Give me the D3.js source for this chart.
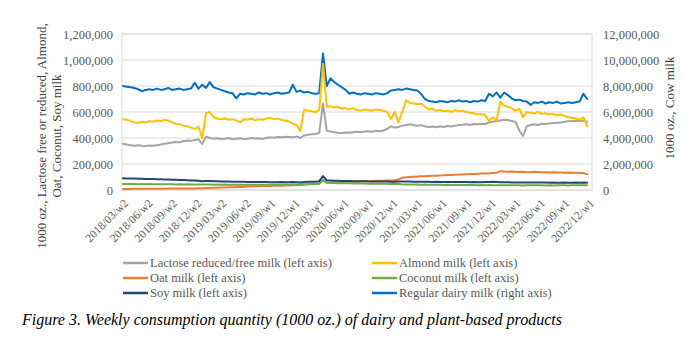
<!DOCTYPE html>
<html>
<head>
<meta charset="utf-8">
<script src="https://cdn.jsdelivr.net/npm/d3@7"></script>
<style>
  html, body { margin: 0; padding: 0; background: #fff; }
  svg { display: block; font-family: "Liberation Serif", "Times New Roman", serif; }
</style>
</head>
<body>
<svg id="chart" width="686" height="340"></svg>
<script>
// Tick labels on the category axis (one every 13 weeks)
const tickLabels = ["2018/03/w2","2018/06/w2","2018/09/w2","2018/12/w2","2019/03/w2","2019/06/w2",
  "2019/09/w1","2019/12/w1","2020/03/w1","2020/06/w1","2020/09/w1","2020/12/w1","2021/03/w1",
  "2021/06/w1","2021/09/w1","2021/12/w1","2022/03/w1","2022/06/w1","2022/09/w1","2022/12/w1"];
const weeksPerTick = 13;
const weekStep = 2;            // values below are read every 2 weeks, starting at week 0
const lastWeek = 247;

// Values in thousands (of 1000 oz.), read every 2nd week
const lactose = [355,350,345,340,345,340,338,342,340,345, 350,355,360,365,370,368,375,380,378,385,
  390,355,410,400,395,398,392,395,400,390, 395,398,392,395,400,396,398,392,400,405,
  402,408,405,410,408,405,412,400,420,425, 428,430,440,665,455,450,445,440,438,442,
  440,445,448,445,450,452,448,455,452,458, 470,490,480,485,495,500,505,500,495,498,
  490,485,488,482,490,485,492,488,495,500, 502,505,500,508,505,510,508,520,525,530,
  535,540,538,530,525,460,415,490,500,505, 500,510,508,512,515,518,520,525,528,530,
  532,530,535,525];
const almond = [545,540,530,520,515,525,520,530,525,535, 530,540,535,520,510,505,495,490,480,470,
  485,400,590,600,560,550,545,550,540,545, 535,520,545,540,550,535,545,540,550,555,
  545,550,540,535,525,510,500,455,620,610, 605,600,615,970,640,645,635,640,625,630,
  620,630,615,610,620,615,610,620,615,610, 600,545,600,520,600,690,670,665,660,665,
  640,620,625,610,615,605,610,600,615,605, 610,600,595,590,580,585,575,530,560,535,
  680,650,640,630,610,625,560,600,595,590, 600,585,590,580,585,575,580,570,560,555,
  550,540,560,490];
const oat = [8,8,8,9,9,9,9,10,10,10, 10,10,11,11,11,11,12,12,12,12,
  13,14,15,16,17,18,19,20,21,22, 23,24,25,26,27,28,29,30,30,31,
  32,33,33,34,35,36,37,38,42,44, 46,47,50,78,58,57,58,60,62,64,
  65,66,67,68,69,70,70,71,72,72, 73,74,75,80,95,98,100,102,103,105,
  106,108,109,110,112,113,115,116,118,119, 120,122,123,124,125,126,127,128,130,132,
  145,142,140,142,140,138,140,137,138,140, 138,136,137,135,136,134,135,133,134,132,
  133,131,130,122];
const coconut = [47,46,47,46,45,46,45,46,45,44, 45,44,45,44,43,44,43,44,43,42,
  43,42,43,42,41,42,41,42,41,40, 41,40,41,40,41,40,41,40,41,40,
  41,40,41,42,41,42,41,42,43,44, 45,46,48,78,55,54,53,52,52,51,
  51,50,51,50,50,49,50,49,49,48, 48,47,48,46,44,43,42,43,42,41,
  42,41,40,41,40,39,40,39,40,38, 39,38,39,38,37,38,37,38,37,36,
  37,36,37,36,37,36,35,36,37,36, 37,36,35,36,35,36,37,36,35,36,
  37,36,37,36];
const soy = [90,89,88,88,87,86,85,85,84,83, 82,81,80,79,78,77,76,75,74,73,
  72,68,70,69,68,67,66,66,65,64, 64,63,63,62,62,62,61,61,61,60,
  60,60,61,60,60,62,60,58,62,63, 63,64,68,107,75,74,72,71,70,70,
  69,68,68,67,67,66,66,66,65,65, 65,64,64,66,65,66,65,64,64,63,
  63,63,62,63,62,62,62,61,62,61, 61,61,60,61,60,60,61,62,63,62,
  60,59,59,58,58,57,57,58,57,57, 58,57,57,56,57,56,56,57,56,56,
  57,56,57,56];
const regularDairy = [8000,7950,7900,7850,7750,7600,7700,7750,7700,7800, 7700,7750,7850,7700,7750,7800,7700,7750,7800,8250,
  7800,8100,7850,8300,7900,7800,7700,7600,7500,7450, 7050,7400,7350,7450,7400,7350,7500,7400,7450,7350,
  7450,7500,7400,7450,7500,8100,7550,7650,7500,7550, 7450,7400,7450,10500,8000,8600,8300,8100,7900,7700,
  7400,7500,7400,7350,7450,7400,7350,7450,7400,7350, 7450,7650,7700,7750,7700,7800,7750,7700,7650,7400,
  7000,6850,6800,6750,6850,6800,6750,6850,6800,6900, 6800,6850,6750,6850,6800,6900,6850,7400,7200,7500,
  7100,7500,7300,7050,6900,6950,6850,6800,6550,6750, 6700,6800,6650,6750,6700,6800,6650,6700,6750,6700,
  6750,6800,7400,7000];

const seriesNames = ["Lactose reduced/free milk (left axis)","Almond milk (left axis)","Oat milk (left axis)",
  "Coconut milk (left axis)","Soy milk (left axis)","Regular dairy milk (right axis)"];
const seriesColors = ["#a5a5a5","#ffc000","#ed7d31","#70ad47","#264478","#0070c0"];
const leftTicks = [0,200,400,600,800,1000,1200];
const rightTicks = [0,2000,4000,6000,8000,10000,12000];

const series = [
  {name: seriesNames[0], color: seriesColors[0], values: lactose, axis: "left"},
  {name: seriesNames[1], color: seriesColors[1], values: almond, axis: "left"},
  {name: seriesNames[2], color: seriesColors[2], values: oat, axis: "left"},
  {name: seriesNames[3], color: seriesColors[3], values: coconut, axis: "left"},
  {name: seriesNames[4], color: seriesColors[4], values: soy, axis: "left"},
  {name: seriesNames[5], color: seriesColors[5], values: regularDairy, axis: "right"}
];

const svg = d3.select("#chart");
const plot = {left: 122, right: 592, top: 34, bottom: 190};

const x = d3.scaleLinear().domain([0, lastWeek]).range([123, 589]);
const yL = d3.scaleLinear().domain([0, 1200]).range([plot.bottom, plot.top]);
const yR = d3.scaleLinear().domain([0, 12000]).range([plot.bottom, plot.top]);
const fmt = d3.format(",");

// gridlines
svg.append("g").selectAll("line").data(leftTicks).join("line")
  .attr("x1", plot.left).attr("x2", plot.right)
  .attr("y1", d => yL(d)).attr("y2", d => yL(d))
  .attr("stroke", "#d9d9d9").attr("stroke-width", 1);
// frame
svg.append("rect").attr("x", plot.left).attr("y", plot.top)
  .attr("width", plot.right - plot.left).attr("height", plot.bottom - plot.top)
  .attr("fill", "none").attr("stroke", "#d9d9d9").attr("stroke-width", 1);

// left axis
const gL = svg.append("g").attr("transform", `translate(${plot.left},0)`)
  .call(d3.axisLeft(yL).tickValues(leftTicks).tickSize(0).tickPadding(9).tickFormat(d => fmt(d * 1000)));
gL.select(".domain").remove();
gL.selectAll("text").attr("font-family", "Liberation Serif").attr("font-size", 12.5).attr("fill", "#595959");

// right axis
const gR = svg.append("g").attr("transform", `translate(${plot.right},0)`)
  .call(d3.axisRight(yR).tickValues(rightTicks).tickSize(0).tickPadding(11).tickFormat(d => fmt(d * 1000)));
gR.select(".domain").remove();
gR.selectAll("text").attr("font-family", "Liberation Serif").attr("font-size", 12.5).attr("fill", "#595959");

// bottom axis labels
const tickWeeks = tickLabels.map((_, i) => i * weeksPerTick);
svg.append("g").selectAll("text").data(tickWeeks).join("text")
  .attr("transform", d => `translate(${x(d) + 3},${plot.bottom + 11}) rotate(-45)`)
  .attr("text-anchor", "end").attr("dy", "0.35em")
  .attr("font-size", 11.5).attr("fill", "#595959")
  .text((d, i) => tickLabels[i]);

// lines
const lineFor = s => d3.line()
  .x((d, i) => x(i * weekStep))
  .y(d => (s.axis === "left" ? yL(d) : yR(d)));
const drawOrder = [5, 0, 1, 2, 3, 4];
svg.append("g").selectAll("path").data(drawOrder.map(i => series[i])).join("path")
  .attr("d", s => lineFor(s)(s.values))
  .attr("fill", "none").attr("stroke", s => s.color).attr("stroke-width", 2)
  .attr("stroke-linejoin", "round").attr("stroke-linecap", "round");

// axis titles
const tl = svg.append("text").attr("transform", "translate(46,136) rotate(-90)")
  .attr("text-anchor", "middle").attr("font-size", 13).attr("fill", "#404040");
tl.append("tspan").attr("x", 0).attr("dy", 0).text("1000 oz., Lactose free or reduced, Almond,");
tl.append("tspan").attr("x", 0).attr("dy", 15).text("Oat, Coconut, Soy milk");
svg.append("text").attr("transform", "translate(674,108) rotate(-90)")
  .attr("text-anchor", "middle").attr("font-size", 13).attr("fill", "#404040")
  .text("1000 oz., Cow milk");

// legend
const legendPos = [[123, 263], [372, 263], [123, 278], [372, 278], [123, 293], [372, 293]];
const lg = svg.append("g").selectAll("g").data(series).join("g")
  .attr("transform", (d, i) => `translate(${legendPos[i][0]},${legendPos[i][1]})`);
lg.append("line").attr("x1", 0).attr("x2", 25).attr("y1", 0).attr("y2", 0)
  .attr("stroke", d => d.color).attr("stroke-width", 2.5);
lg.append("text").attr("x", 27).attr("dy", "0.35em").attr("font-size", 12.5).attr("fill", "#595959")
  .text(d => d.name);

// caption
svg.append("text").attr("x", 22).attr("y", 325).attr("font-size", 16)
  .attr("font-style", "italic").attr("fill", "#000")
  .text("Figure 3. Weekly consumption quantity (1000 oz.) of dairy and plant-based products");
</script>
</body>
</html>
